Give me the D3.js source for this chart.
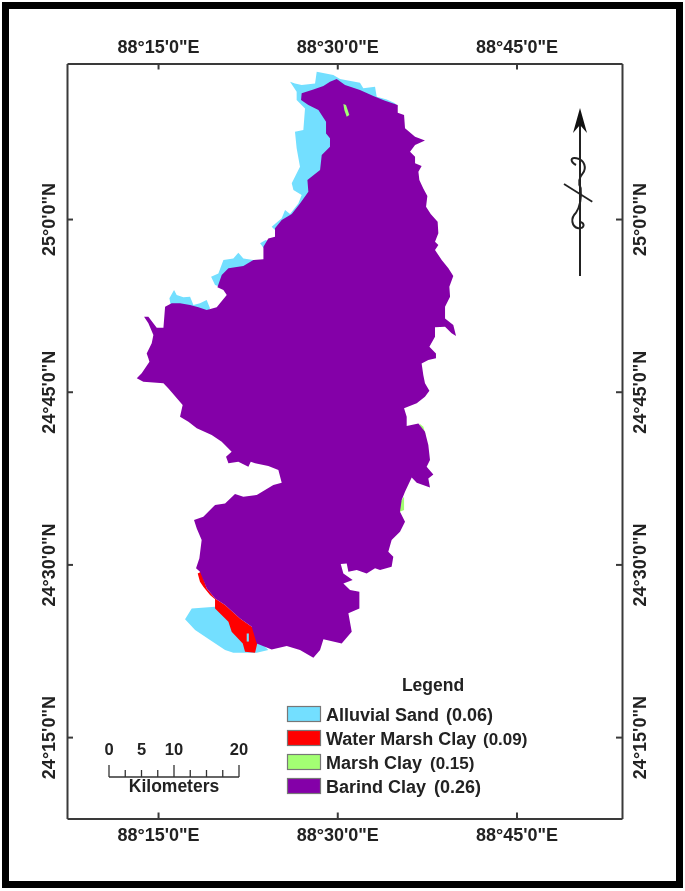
<!DOCTYPE html>
<html>
<head>
<meta charset="utf-8">
<title>Soil map</title>
<script src="https://cdnjs.cloudflare.com/ajax/libs/d3/7.8.5/d3.min.js"></script>
<style>
  html, body { margin: 0; padding: 0; background: #fff; }
  svg { display: block; filter: blur(0.45px); }
  text { font-family: "Liberation Sans", Arial, sans-serif; font-weight: bold; fill: #222; }
</style>
</head>
<body>
<div id="map"></div>
<script>
// all outlines are [lon, lat] in arc minutes past 88°E and 24°N
var lonTicks = [15, 30, 45];
var lonLabels = ["88°15'0\"E", "88°30'0\"E", "88°45'0\"E"];
var latTicks = [15, 30, 45, 60];
var latLabels = ["24°15'0\"N", "24°30'0\"N", "24°45'0\"N", "25°0'0\"N"];

var barindClay = [
  [29.95,72.16],[30.65,71.64],[31.90,71.21],[33.02,70.68],[34.00,70.28],[35.06,69.90],[35.06,69.24],[35.59,69.03],
  [35.67,67.88],[36.51,67.15],[37.34,66.83],[36.51,66.43],[36.09,65.85],[36.51,65.41],[36.51,64.84],[37.06,64.60],
  [36.79,64.11],[36.87,63.39],[37.20,62.66],[37.54,62.00],[37.43,61.07],[37.82,60.44],[38.40,59.77],[38.46,58.76],
  [38.18,58.03],[38.46,57.74],[38.18,57.31],[38.74,56.44],[39.30,55.72],[39.71,55.05],[39.38,54.12],[39.44,53.25],
  [39.02,52.39],[39.02,51.37],[39.71,50.79],[39.94,49.84],[39.57,50.07],[39.02,50.65],[38.18,50.59],[38.18,49.78],
  [37.71,48.91],[38.26,48.33],[38.26,47.90],[37.62,47.75],[37.06,47.46],[37.20,46.45],[37.34,45.73],[37.71,45.09],
  [37.34,44.57],[36.65,43.99],[35.59,43.56],[35.81,42.83],[35.81,42.02],[36.79,42.25],[37.34,41.53],[37.62,40.37],
  [37.76,39.07],[37.48,38.49],[38.04,37.82],[37.62,37.47],[37.76,36.69],[36.65,37.10],[36.23,37.56],[35.67,36.32],
  [35.39,35.59],[35.25,34.58],[35.67,33.71],[35.25,32.84],[34.55,32.12],[34.27,31.10],[34.69,30.67],[34.55,29.80],
  [33.58,29.51],[33.16,29.66],[32.46,29.22],[31.63,29.51],[30.93,29.37],[30.79,30.09],[30.29,30.03],[30.51,29.22],
  [31.29,28.64],[30.51,28.35],[31.07,27.78],[31.85,27.63],[31.85,26.18],[30.93,25.75],[31.21,24.16],[30.37,23.14],
  [28.84,23.49],[28.56,22.56],[28.00,21.90],[26.88,22.56],[25.77,22.91],[24.51,22.62],[23.26,23.14],[22.84,24.59],
  [21.86,25.31],[20.61,26.47],[19.77,27.05],[19.07,27.92],[18.51,29.37],[18.18,29.66],[18.46,30.53],[18.65,32.12],
  [18.24,33.13],[18.01,33.86],[18.79,34.15],[19.77,35.16],[20.61,35.30],[21.44,36.11],[22.14,35.88],[23.26,36.03],
  [24.65,36.90],[25.35,37.10],[25.07,38.20],[24.23,38.55],[23.12,38.78],[22.76,38.92],[22.56,38.49],[21.72,38.92],
  [20.89,38.78],[20.69,39.36],[21.16,39.79],[20.33,40.66],[19.49,41.24],[18.24,41.82],[17.54,42.40],[16.84,42.83],
  [17.06,43.84],[15.87,45.29],[15.45,45.73],[13.77,45.87],[13.22,46.16],[13.63,46.60],[14.28,47.61],[14.19,47.90],
  [14.05,48.33],[14.47,49.20],[14.61,49.92],[14.19,50.94],[13.83,51.52],[14.19,51.52],[14.89,50.56],[15.45,50.56],
  [15.59,52.39],[16.14,52.68],[16.84,52.68],[17.68,52.53],[18.38,52.33],[19.07,52.10],[19.91,52.33],[20.75,53.40],
  [20.47,53.83],[19.97,54.07],[20.33,55.14],[20.89,55.72],[22.14,55.92],[22.98,56.44],[23.82,56.50],[23.82,57.60],
  [24.23,58.32],[24.79,58.47],[24.79,59.19],[25.35,59.91],[26.19,60.44],[26.88,61.36],[27.58,62.38],[27.50,63.39],
  [28.56,64.26],[28.70,65.56],[29.39,66.28],[29.39,67.01],[29.06,67.44],[29.06,68.45],[28.42,69.47],[27.58,69.90],
  [26.97,70.34],[27.02,70.92],[28.00,71.26],[28.84,71.55],[29.39,71.93]
];
var alluvialNorth = [
  [28.28,72.80],[29.67,72.51],[30.23,72.16],[31.90,71.84],[32.18,71.35],[33.16,71.50],[33.30,70.63],[34.14,70.39],
  [34.83,70.05],[35.06,69.76],[29.67,65.13],[28.00,61.65],[25.77,59.91],[24.79,59.05],[24.51,59.33],[25.35,60.06],
  [25.63,60.78],[26.05,60.44],[26.74,61.36],[27.02,62.09],[26.33,62.52],[26.19,63.10],[26.46,63.68],[26.88,64.55],
  [26.60,66.14],[26.46,67.59],[27.16,67.73],[27.30,69.61],[26.60,70.34],[26.60,71.06],[26.05,71.93],[26.46,71.78],
  [27.02,71.64],[28.14,71.78]
];
var alluvialIslet = [[23.54,57.89],[24.01,58.18],[24.37,58.03],[23.95,57.31]];
var alluvialWest = [
  [19.44,54.99],[20.05,55.28],[20.47,56.44],[21.30,56.58],[21.72,57.08],[22.14,56.58],[22.98,56.44],[23.54,56.15],
  [21.30,55.28],[20.19,54.12],[19.77,54.27]
];
var alluvialNorthWest = [
  [16.34,53.83],[16.56,53.40],[17.12,53.20],[17.68,53.25],[17.96,52.53],[18.51,52.68],[19.07,52.97],[19.35,52.24],
  [19.07,51.81],[18.38,52.10],[16.14,52.10],[15.95,53.11]
];
var alluvialSouth = [
  [17.26,25.23],[17.82,26.18],[19.77,26.33],[21.50,25.50],[23.50,23.30],[24.23,22.56],[23.26,22.33],
  [21.30,22.33],[20.61,22.56],[19.35,23.43],[18.10,24.30]
];
var alluvialSpeck = [[22.42,24.00],[22.60,24.00],[22.60,23.30],[22.42,23.30]];
var waterMarshClay = [
  [18.32,29.22],[18.60,29.37],[19.07,27.92],[19.77,27.05],[20.61,26.47],[21.86,25.31],[22.84,24.59],[23.50,24.00],
  [23.30,23.14],[23.12,22.33],[22.28,22.42],[22.09,23.14],[21.16,24.16],[20.89,25.02],[19.77,26.18],[19.77,26.97],
  [19.35,27.34],[18.79,28.07],[18.51,28.50]
];
var marshNorth = [[30.51,69.99],[30.73,69.90],[31.01,69.03],[30.79,68.89],[30.59,69.47]];
var marshEastA = [[36.87,42.25],[37.20,41.96],[37.40,41.24],[37.06,41.67]];
var marshEastB = [[35.39,35.59],[35.59,35.88],[35.59,34.72],[35.25,34.58],[35.20,35.30]];

var legendNames = ["Alluvial Sand", "Water Marsh Clay", "Marsh Clay", "Barind Clay"];
var legendValues = ["(0.06)", "(0.09)", "(0.15)", "(0.26)"];
var scaleKm = [0, 2.5, 5, 7.5, 10, 12.5, 15, 17.5, 20];
var scaleKmLabels = [0, 5, 10, 20];

var width = 685;
var height = 891;
var colors = { sand: "#73dfff", water: "#ff0000", marsh: "#a3ff73", barind: "#8400a8" };

var svg = d3.select("#map").append("svg")
  .attr("width", width)
  .attr("height", height);

svg.append("rect").attr("width", width).attr("height", height).attr("fill", "#fff");

// thick outer border
svg.append("rect")
  .attr("x", 5.5).attr("y", 5.5)
  .attr("width", 674).attr("height", 879)
  .attr("fill", "none")
  .attr("stroke", "#000")
  .attr("stroke-width", 7);

var x = d3.scaleLinear().domain([7.38, 53.83]).range([67, 622]);
var y = d3.scaleLinear().domain([7.93, 73.51]).range([818.5, 63.5]);

var line = d3.line()
  .x(function (d) { return x(d[0]); })
  .y(function (d) { return y(d[1]); })
  .curve(d3.curveLinearClosed);

// drawn back to front, the clay polygon hides the inner edges of the others
var shapes = [
  { pts: alluvialNorth, fill: colors.sand },
  { pts: alluvialIslet, fill: colors.sand },
  { pts: alluvialWest, fill: colors.sand },
  { pts: alluvialNorthWest, fill: colors.sand },
  { pts: alluvialSouth, fill: colors.sand },
  { pts: marshEastA, fill: colors.marsh },
  { pts: marshEastB, fill: colors.marsh },
  { pts: waterMarshClay, fill: colors.water },
  { pts: alluvialSpeck, fill: colors.sand },
  { pts: barindClay, fill: colors.barind },
  { pts: marshNorth, fill: colors.marsh }
];

svg.append("g").selectAll("path")
  .data(shapes).enter()
  .append("path")
  .attr("d", function (d) { return line(d.pts); })
  .attr("fill", function (d) { return d.fill; });

// Axes, the four domain lines make the neatline
function styleAxis(g) {
  g.selectAll("path,line").attr("stroke", "#3a3a3a").attr("stroke-width", 2);
  g.selectAll("text").attr("font-size", 18).attr("fill", "#222");
}

var lonFormat = function (d) { return lonLabels[lonTicks.indexOf(d)]; };
var latFormat = function (d) { return latLabels[latTicks.indexOf(d)]; };

svg.append("g")
  .attr("transform", "translate(0,63.5)")
  .call(d3.axisTop(x).tickValues(lonTicks).tickFormat(lonFormat).tickSizeInner(-6).tickSizeOuter(0).tickPadding(11))
  .call(styleAxis);

svg.append("g")
  .attr("transform", "translate(0,818.5)")
  .call(d3.axisBottom(x).tickValues(lonTicks).tickFormat(lonFormat).tickSizeInner(-6).tickSizeOuter(0).tickPadding(22.5))
  .call(styleAxis)
  .selectAll("text").attr("dy", 0);

svg.append("g")
  .attr("transform", "translate(67,0)")
  .call(d3.axisLeft(y).tickValues(latTicks).tickFormat(latFormat).tickSizeInner(-6).tickSizeOuter(0))
  .call(styleAxis)
  .selectAll("text")
  .attr("x", 0).attr("y", -12.5).attr("dy", 0)
  .attr("text-anchor", "middle")
  .attr("transform", "rotate(-90)");

svg.append("g")
  .attr("transform", "translate(622,0)")
  .call(d3.axisRight(y).tickValues(latTicks).tickFormat(latFormat).tickSizeInner(-6).tickSizeOuter(0))
  .call(styleAxis)
  .selectAll("text")
  .attr("x", 0).attr("y", 24).attr("dy", 0)
  .attr("text-anchor", "middle")
  .attr("transform", "rotate(-90)");

// North arrow
var arrow = svg.append("g").attr("fill", "none").attr("stroke", "#222");
arrow.append("path").attr("d", "M580,112L580,276").attr("stroke-width", 2);
arrow.append("path").attr("d", "M580,108L573,133L580,125L587,133Z").attr("fill", "#111").attr("stroke", "none");
arrow.append("path")
  .attr("stroke-width", 2)
  .attr("d", "M576,165C570,161.7 570,156.7 576.7,158.3C585,160 586.7,168.3 582.7,173.3C578.3,178.3 578.3,183.3 580.7,188.3" +
    "C581.7,200 580,206.7 576,212.7C570,218.3 571.7,226.7 578.3,228.3C585,228.3 585,223.3 580,221.7");
arrow.append("path").attr("d", "M564,184L592.3,201.7").attr("stroke-width", 1.8);

// Scale bar
var km = d3.scaleLinear().domain([0, 20]).range([109, 239]);
var bar = svg.append("g");
bar.append("line").attr("x1", km(0)).attr("x2", km(20)).attr("y1", 777).attr("y2", 777)
  .attr("stroke", "#333").attr("stroke-width", 1.5);
bar.selectAll(".tick").data(scaleKm).enter()
  .append("line")
  .attr("x1", function (d) { return km(d); })
  .attr("x2", function (d) { return km(d); })
  .attr("y1", 777)
  .attr("y2", function (d) { return d % 10 == 0 ? 765 : 770; })
  .attr("stroke", "#333")
  .attr("stroke-width", 1.3);
bar.selectAll(".lab").data(scaleKmLabels).enter()
  .append("text")
  .attr("x", function (d) { return km(d); })
  .attr("y", 755)
  .attr("text-anchor", "middle")
  .attr("font-size", 16.5)
  .text(function (d) { return d; });
bar.append("text").attr("x", km(10)).attr("y", 792).attr("text-anchor", "middle").attr("font-size", 17.5).text("Kilometers");

// Legend
var legendColors = [colors.sand, colors.water, colors.marsh, colors.barind];
var legendY = d3.scalePoint().domain(legendNames).range([714, 786]);
var valueX = [446, 483, 430, 434];
var valueSize = [18, 17, 17, 18];

svg.append("text").attr("x", 433).attr("y", 691).attr("text-anchor", "middle").attr("font-size", 17.5).text("Legend");

var rows = svg.append("g").selectAll("g").data(legendNames).enter().append("g");
rows.append("rect")
  .attr("x", 287.5)
  .attr("y", function (d) { return legendY(d) - 7.5; })
  .attr("width", 33)
  .attr("height", 15)
  .attr("fill", function (d, i) { return legendColors[i]; })
  .attr("stroke", "#777")
  .attr("stroke-width", 1.2);
rows.append("text")
  .attr("x", 326)
  .attr("y", function (d) { return legendY(d) + 6.5; })
  .attr("font-size", 18)
  .text(function (d) { return d; });
rows.append("text")
  .attr("x", function (d, i) { return valueX[i]; })
  .attr("y", function (d) { return legendY(d) + 6.5; })
  .attr("font-size", function (d, i) { return valueSize[i]; })
  .text(function (d, i) { return legendValues[i]; });
</script>
</body>
</html>
